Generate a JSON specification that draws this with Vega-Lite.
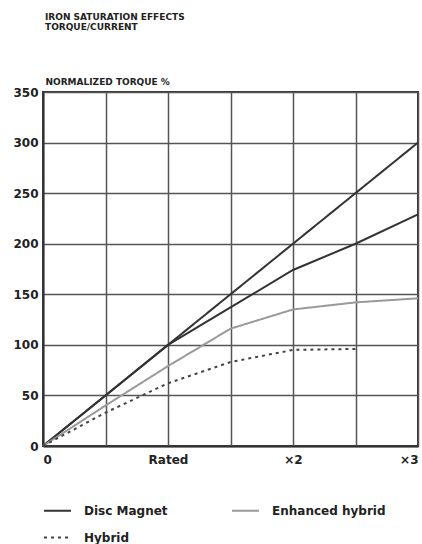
{
  "$schema": "https://vega.github.io/schema/vega-lite/v6.json",
  "width": 375,
  "height": 354,
  "autosize": {"type": "none"},
  "padding": {"left": 43, "top": 92, "right": 4, "bottom": 98},
  "background": "#ffffff",
  "title": {
    "text": ["IRON SATURATION EFFECTS", "TORQUE/CURRENT"],
    "anchor": "start",
    "frame": "group",
    "orient": "top",
    "font": "DejaVu Sans",
    "fontWeight": "bold",
    "fontSize": 9,
    "color": "#222",
    "lineHeight": 10,
    "offset": 45,
    "dx": 2
  },
  "config": {
    "font": "DejaVu Sans",
    "view": {"stroke": "#333", "strokeWidth": 2},
    "axis": {
      "labelFont": "DejaVu Sans",
      "labelFontWeight": "bold",
      "labelFontSize": 12,
      "labelColor": "#222",
      "grid": true,
      "gridColor": "#555",
      "gridWidth": 1.5,
      "ticks": false,
      "domainColor": "#333",
      "domainWidth": 2
    }
  },
  "datasets": {
    "curves": [
      {"current": 0, "torque": 0, "series": "Disc Magnet"},
      {"current": 3, "torque": 300, "series": "Disc Magnet"},
      {"current": 0, "torque": 0, "series": "Enhanced hybrid"},
      {"current": 0.5, "torque": 40, "series": "Enhanced hybrid"},
      {"current": 1, "torque": 79, "series": "Enhanced hybrid"},
      {"current": 1.5, "torque": 116, "series": "Enhanced hybrid"},
      {"current": 2, "torque": 135, "series": "Enhanced hybrid"},
      {"current": 2.5, "torque": 142, "series": "Enhanced hybrid"},
      {"current": 3, "torque": 146, "series": "Enhanced hybrid"},
      {"current": 0, "torque": 0, "series": "Hybrid"},
      {"current": 0.5, "torque": 33, "series": "Hybrid"},
      {"current": 1, "torque": 62, "series": "Hybrid"},
      {"current": 1.5, "torque": 83, "series": "Hybrid"},
      {"current": 2, "torque": 95, "series": "Hybrid"},
      {"current": 2.5, "torque": 96, "series": "Hybrid"}
    ],
    "other": [
      {"current": 0, "torque": 0},
      {"current": 0.5, "torque": 50},
      {"current": 1, "torque": 100},
      {"current": 1.5, "torque": 137},
      {"current": 2, "torque": 174},
      {"current": 2.5, "torque": 200},
      {"current": 3, "torque": 229}
    ]
  },
  "encoding": {
    "x": {
      "field": "current",
      "type": "quantitative",
      "scale": {"domain": [0, 3], "nice": false, "zero": true},
      "axis": {
        "title": null,
        "values": [0, 0.5, 1, 1.5, 2, 2.5, 3],
        "labelExpr": "datum.value == 0 ? '0' : datum.value == 1 ? 'Rated' : datum.value == 2 ? '×2' : datum.value == 3 ? '×3' : ''",
        "labelPadding": 8
      }
    },
    "y": {
      "field": "torque",
      "type": "quantitative",
      "scale": {"domain": [0, 350], "nice": false},
      "axis": {
        "title": "NORMALIZED TORQUE %",
        "titleAngle": 0,
        "titleAlign": "left",
        "titleBaseline": "alphabetic",
        "titleX": 2,
        "titleY": -8,
        "titleFont": "DejaVu Sans",
        "titleFontWeight": "bold",
        "titleFontSize": 9,
        "titleColor": "#222",
        "values": [0, 50, 100, 150, 200, 250, 300, 350],
        "labelPadding": 5
      }
    }
  },
  "layer": [
    {
      "data": {"name": "other"},
      "mark": {"type": "line", "color": "#333", "strokeWidth": 2}
    },
    {
      "data": {"name": "curves"},
      "mark": {"type": "line", "strokeWidth": 2},
      "encoding": {
        "color": {
          "field": "series",
          "type": "nominal",
          "scale": {"domain": ["Disc Magnet", "Hybrid", "Enhanced hybrid"], "range": ["#333333", "#444444", "#9a9a9a"]},
          "legend": {
            "title": null,
            "orient": "none",
            "legendX": 0,
            "legendY": 404,
            "columns": 2,
            "columnPadding": 60,
            "rowPadding": 6,
            "padding": 0,
            "symbolType": "stroke",
            "symbolSize": 729,
            "symbolStrokeWidth": 2,
            "labelOffset": 12,
            "labelFont": "DejaVu Sans",
            "labelFontWeight": "bold",
            "labelFontSize": 12,
            "labelColor": "#222"
          }
        },
        "strokeDash": {
          "field": "series",
          "type": "nominal",
          "scale": {"domain": ["Disc Magnet", "Hybrid", "Enhanced hybrid"], "range": [[1, 0], [3, 4], [1, 0]]},
          "legend": null
        }
      }
    }
  ]
}
